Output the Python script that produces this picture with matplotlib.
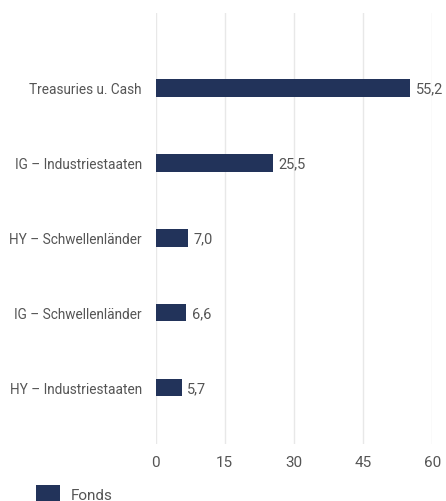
import matplotlib.pyplot as plt

# Daten
kategorien = ['Treasuries u. Cash', 'IG – Industriestaaten', 'HY – Schwellenländer',
              'IG – Schwellenländer', 'HY – Industriestaaten']
werte = [55.2, 25.5, 7.0, 6.6, 5.7]
x_ticks = [0, 15, 30, 45, 60]

plt.rcParams['font.family'] = ['Roboto', 'DejaVu Sans']
farbe = '#22335a'
text_farbe = '#555555'

fig = plt.figure(figsize=(4.46, 5.02), dpi=100)
ax = fig.add_axes([0.3487, 0.1135, 0.621, 0.8586])

pos = range(len(kategorien))
bars = ax.barh(pos, werte, height=0.23, color=farbe, label='Fonds', zorder=3)

for p, v in zip(pos, werte):
    ax.text(v + 1.2, p, f'{v:.1f}'.replace('.', ','), va='center', ha='left',
            fontsize=10.5, color=text_farbe)

ax.set_xlim(0, 60)
ax.set_ylim(4.75, -1)
ax.set_xticks(x_ticks)
ax.set_xticklabels([str(t) for t in x_ticks], fontsize=11, color=text_farbe)
ax.set_yticks(list(pos))
ax.set_yticklabels(kategorien, fontsize=9.8, color=text_farbe)
ax.tick_params(axis='both', length=0)
ax.tick_params(axis='y', pad=10)
ax.tick_params(axis='x', pad=8)
ax.grid(axis='x', color='#e8e8e8', linewidth=1, zorder=0)
for s in ax.spines.values():
    s.set_visible(False)

fig.legend(handles=[bars], labels=['Fonds'], loc='lower left', bbox_to_anchor=(0.05, -0.03),
           frameon=False, handlelength=1.6, handleheight=1.4, handletextpad=0.7,
           prop={'size': 11}, labelcolor=text_farbe)

fig.savefig('out.png', dpi=100)
